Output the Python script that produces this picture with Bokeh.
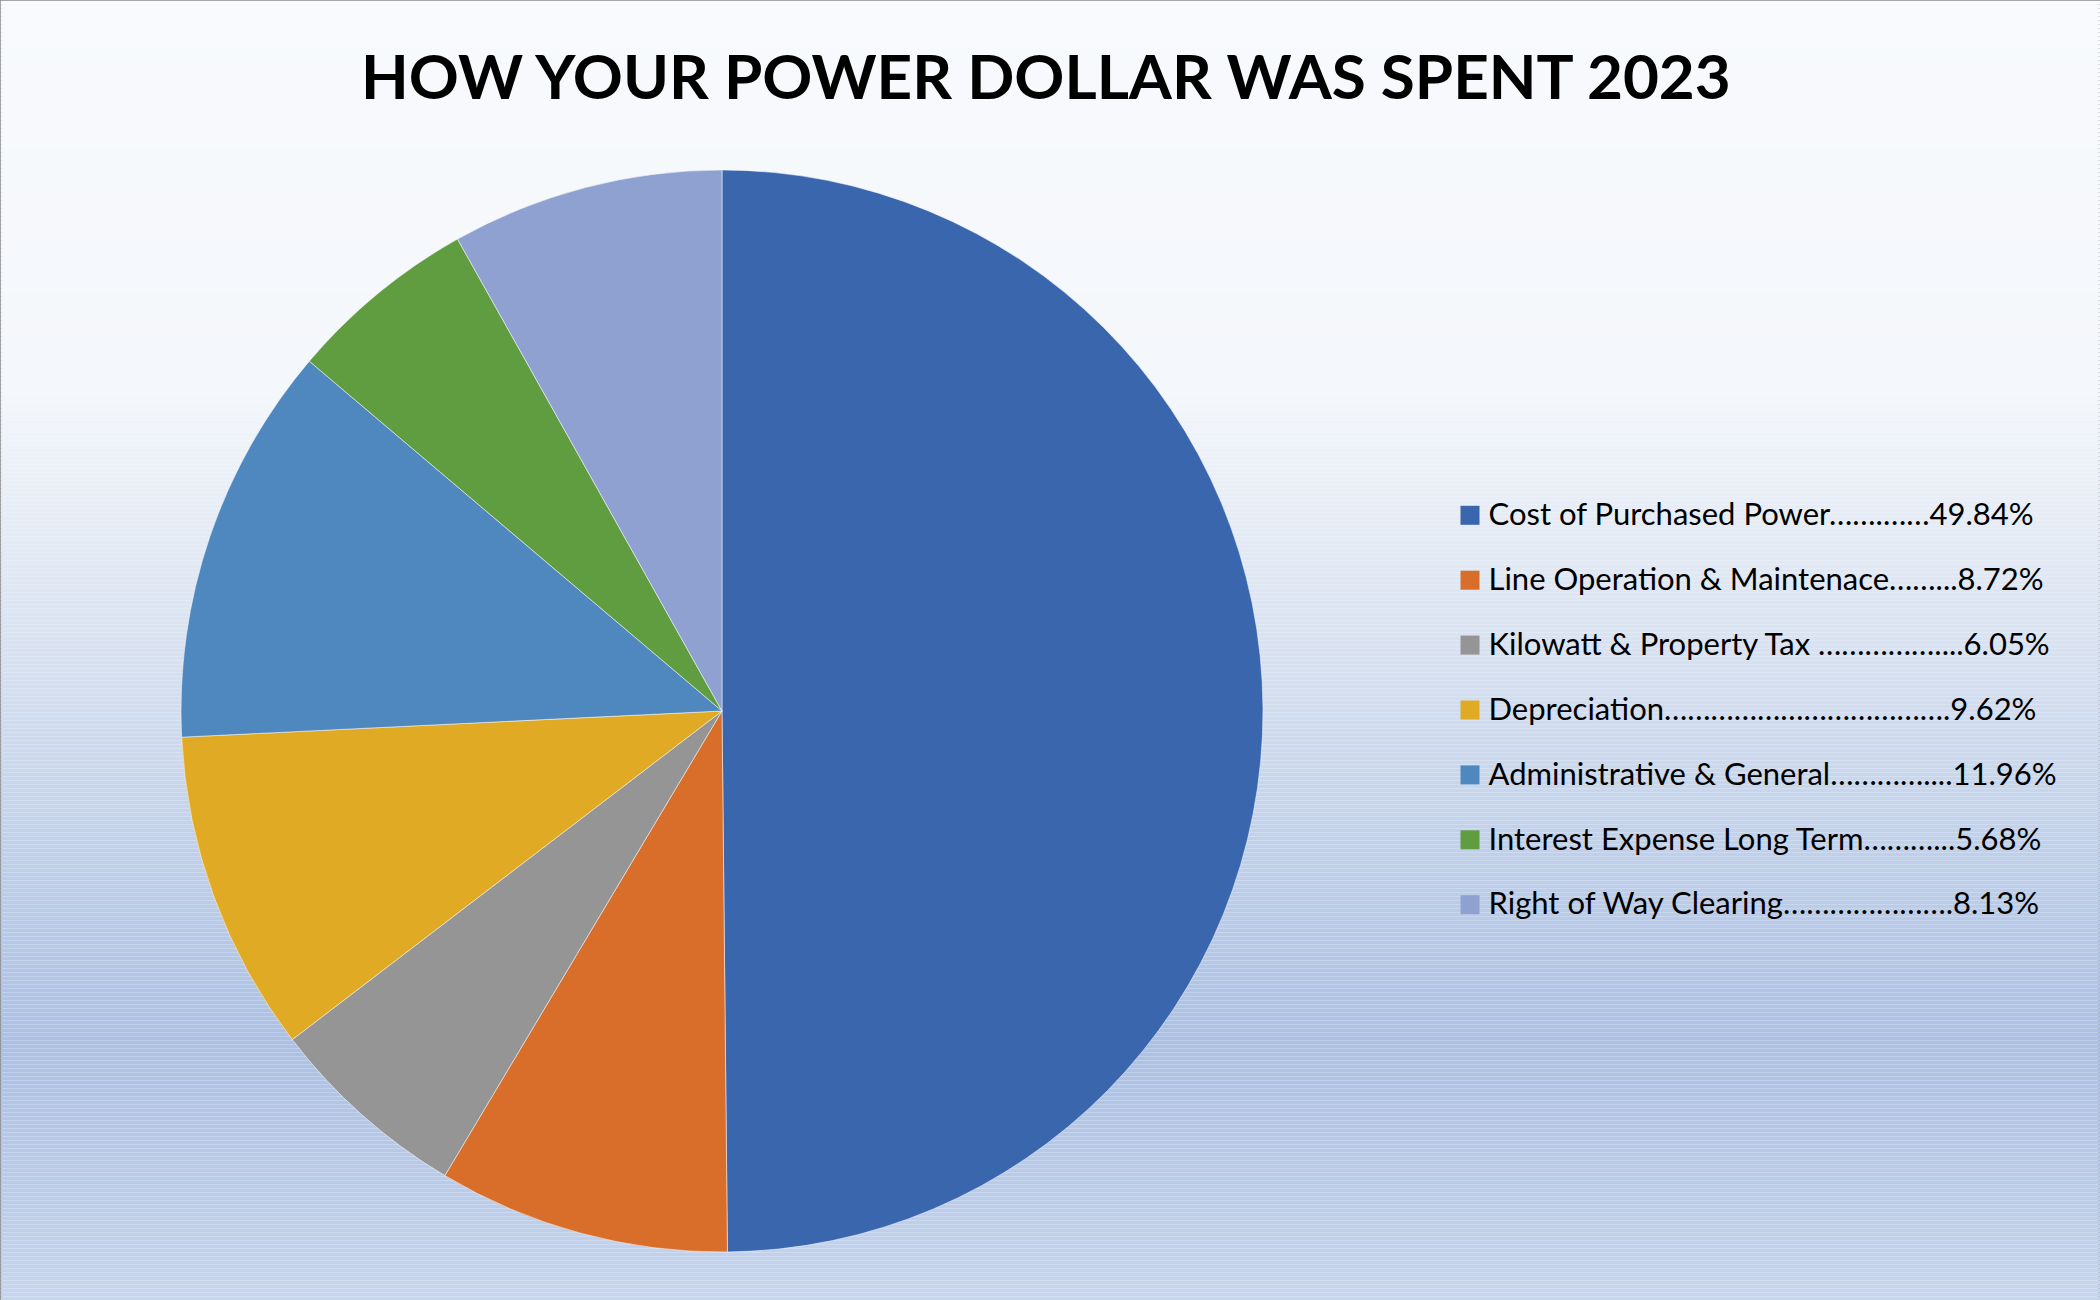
import math
from bokeh.plotting import figure
from bokeh.models import Range1d, ColumnDataSource
from bokeh.core.properties import value
from bokeh.embed import file_html
from bokeh.resources import INLINE

# ---------------- data ----------------
title_text = "HOW YOUR POWER DOLLAR WAS SPENT 2023"
categories = [
    "Cost of Purchased Power\u2026\u2026.\u2026\u2026",
    "Line Operation & Maintenace\u2026\u2026...",
    "Kilowatt & Property Tax \u2026\u2026\u2026\u2026\u2026....",
    "Depreciation\u2026\u2026\u2026\u2026\u2026\u2026\u2026\u2026\u2026\u2026\u2026\u2026.",
    "Administrative & General\u2026\u2026\u2026\u2026....",
    "Interest Expense Long Term\u2026\u2026\u2026...",
    "Right of Way Clearing\u2026\u2026\u2026\u2026\u2026\u2026\u2026.",
]
shares = [49.84, 8.72, 6.05, 9.62, 11.96, 5.68, 8.13]
colors = ["#3A66AE", "#D86E2A", "#959595", "#E0AA25", "#4E88BF", "#609D41", "#8FA1D1"]

# ---------------- layout ----------------
W, H = 2100, 1300


def fx(X):
    return X


def fy(Y):
    return H - Y


p = figure(width=W, height=H, output_backend="svg", toolbar_location=None,
           x_range=Range1d(0, W), y_range=Range1d(0, H),
           x_axis_type=None, y_axis_type=None, min_border=0)
p.grid.visible = False
p.outline_line_color = "#8A8A8A"
p.outline_line_width = 3
p.background_fill_color = "#F7F9FC"
p.border_fill_color = "#F7F9FC"

# background vertical gradient (decorative)
stops = [(0.0, (248, 250, 253)), (0.30, (244, 247, 251)), (0.55, (208, 220, 239)),
         (0.80, (171, 192, 227)), (1.0, (199, 213, 237))]


def grad(t):
    for (t0, c0), (t1, c1) in zip(stops[:-1], stops[1:]):
        if t0 <= t <= t1:
            u = (t - t0) / (t1 - t0)
            return "#%02x%02x%02x" % tuple(int(round(a + (b - a) * u)) for a, b in zip(c0, c1))
    return "#%02x%02x%02x" % stops[-1][1]


band = 4
tops, bottoms, bcols = [], [], []
for y in range(0, H, band):
    tops.append(fy(y))
    bottoms.append(fy(y + band))
    bcols.append(grad((y + band / 2) / H))
p.quad(left=0, right=W, top=tops, bottom=bottoms, fill_color=bcols, line_color=None)

# pie
cx, cy, r = fx(721.5), fy(710.5), 541
total = sum(shares)
starts, ends = [], []
acc = 0.0
for s in shares:
    starts.append(math.pi / 2 - 2 * math.pi * acc / total)
    acc += s
    ends.append(math.pi / 2 - 2 * math.pi * acc / total)
src = ColumnDataSource(dict(start=starts, end=ends, color=colors))
p.wedge(x=cx, y=cy, radius=r, start_angle="start", end_angle="end", direction="clock",
        fill_color="color", line_color="#FFFFFF", line_alpha=0.5, line_width=1, source=src)

# text baseline compensation for svg text placement
BL = 0.38

# title
tsize = 62
p.text(x=[fx(1048)], y=[fy(98.5 - BL * tsize)], text=[title_text], text_align="center",
       text_baseline="alphabetic", text_font=value("Lato"), text_font_style="bold",
       text_font_size=f"{tsize}px", text_color="#000000")

# legend
lsize = 31
base0, step = 524.3, 64.9
bases = [base0 + i * step for i in range(len(shares))]
labels = [f"{c}{v:.2f}%" for c, v in zip(categories, shares)]
p.rect(x=[fx(1469.5)] * len(shares), y=[fy(b - 9.5) for b in bases], width=19, height=19,
       fill_color=colors, line_color=None)
p.text(x=[fx(1488)] * len(shares), y=[fy(b - BL * lsize) for b in bases], text=labels,
       text_align="left", text_baseline="alphabetic", text_font=value("Lato"),
       text_font_size=f"{lsize}px", text_color="#000000")

open("out.html", "w").write(file_html(p, INLINE))
